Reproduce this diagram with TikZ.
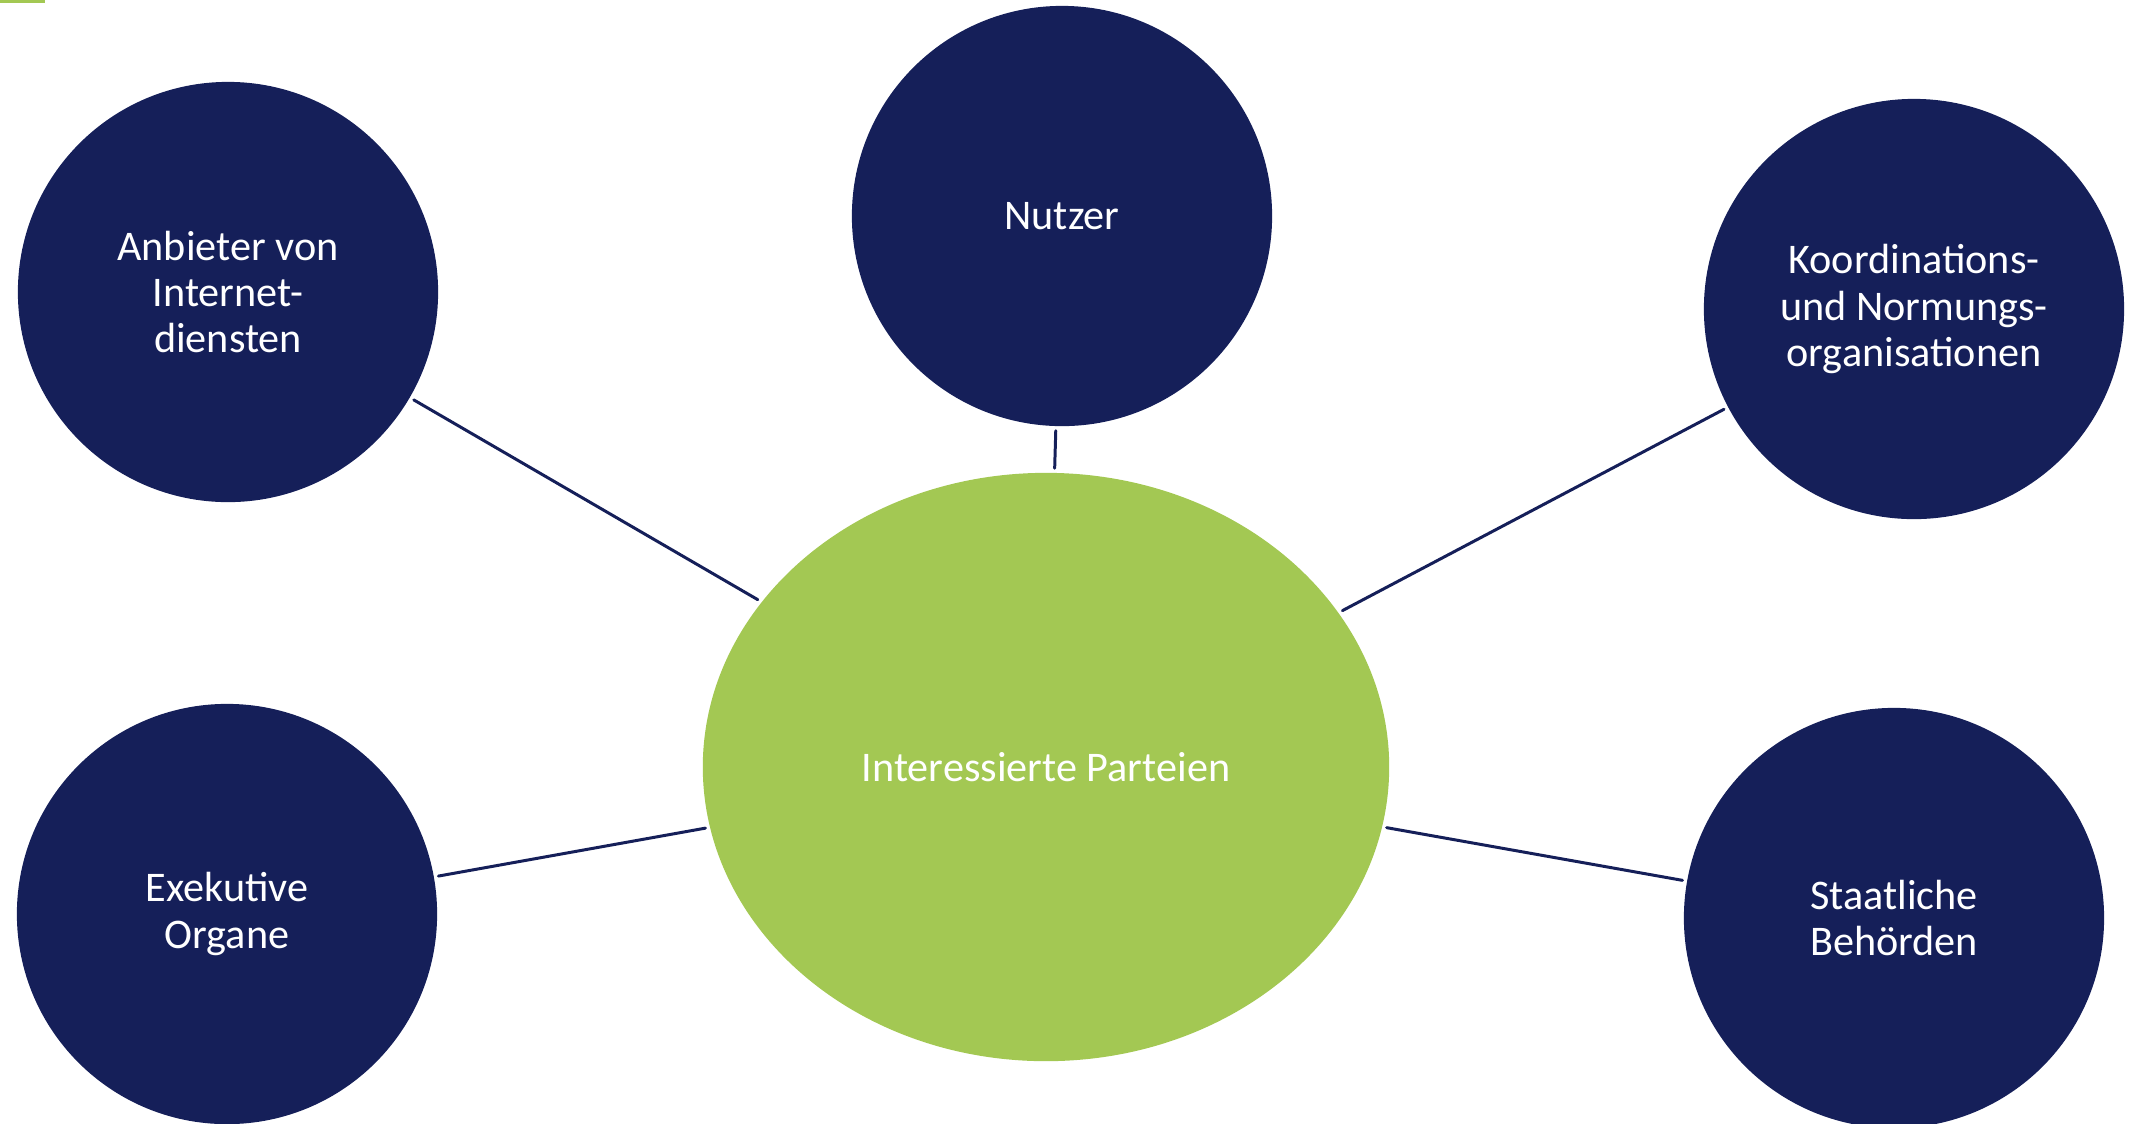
\documentclass[tikz,border=0pt]{standalone}
\usepackage{fontspec}
\setmainfont{Carlito}
\usetikzlibrary{shapes.geometric}
\definecolor{navy}{RGB}{21,31,89}
\definecolor{lime}{RGB}{163,200,83}

\begin{document}
\begin{tikzpicture}[line cap=round,line join=round,x=0.01cm,y=-0.01cm,
    party/.style={circle,fill=navy,minimum size=4.2cm,inner sep=0pt,text=white,align=center,font=\fontsize{12}{13.2}\selectfont},
    hub/.style={ellipse,fill=lime,minimum width=6.86cm,minimum height=5.88cm,inner sep=0pt,text=white,font=\fontsize{12}{13.2}\selectfont},
    link/.style={color=navy,line width=0.85pt,shorten <=0.04cm,shorten >=0.04cm}]
    \useasboundingbox (0,0) rectangle (2129,1123);
    \clip (0,0) rectangle (2129,1123);
    \fill[color=lime] (0,0) rectangle (45,3);
    \node[hub] (center) at (1046,767) {Interessierte Parteien};
    \node[party] (anbieter) at (228,292) {Anbieter von\\Internet-\\diensten};
    \node[party] (nutzer) at (1062,216) {Nutzer};
    \node[party] (koord) at (1914,309) {Koordinations-\\und Normungs-\\organisationen};
    \node[party] (exek) at (227,914) {Exekutive\\Organe};
    \node[party] (staat) at (1894,918) {Staatliche\\Behörden};
    \foreach \p in {anbieter,nutzer,koord,exek,staat}
    \draw[link] (\p) -- (center);
\end{tikzpicture}
\end{document}
